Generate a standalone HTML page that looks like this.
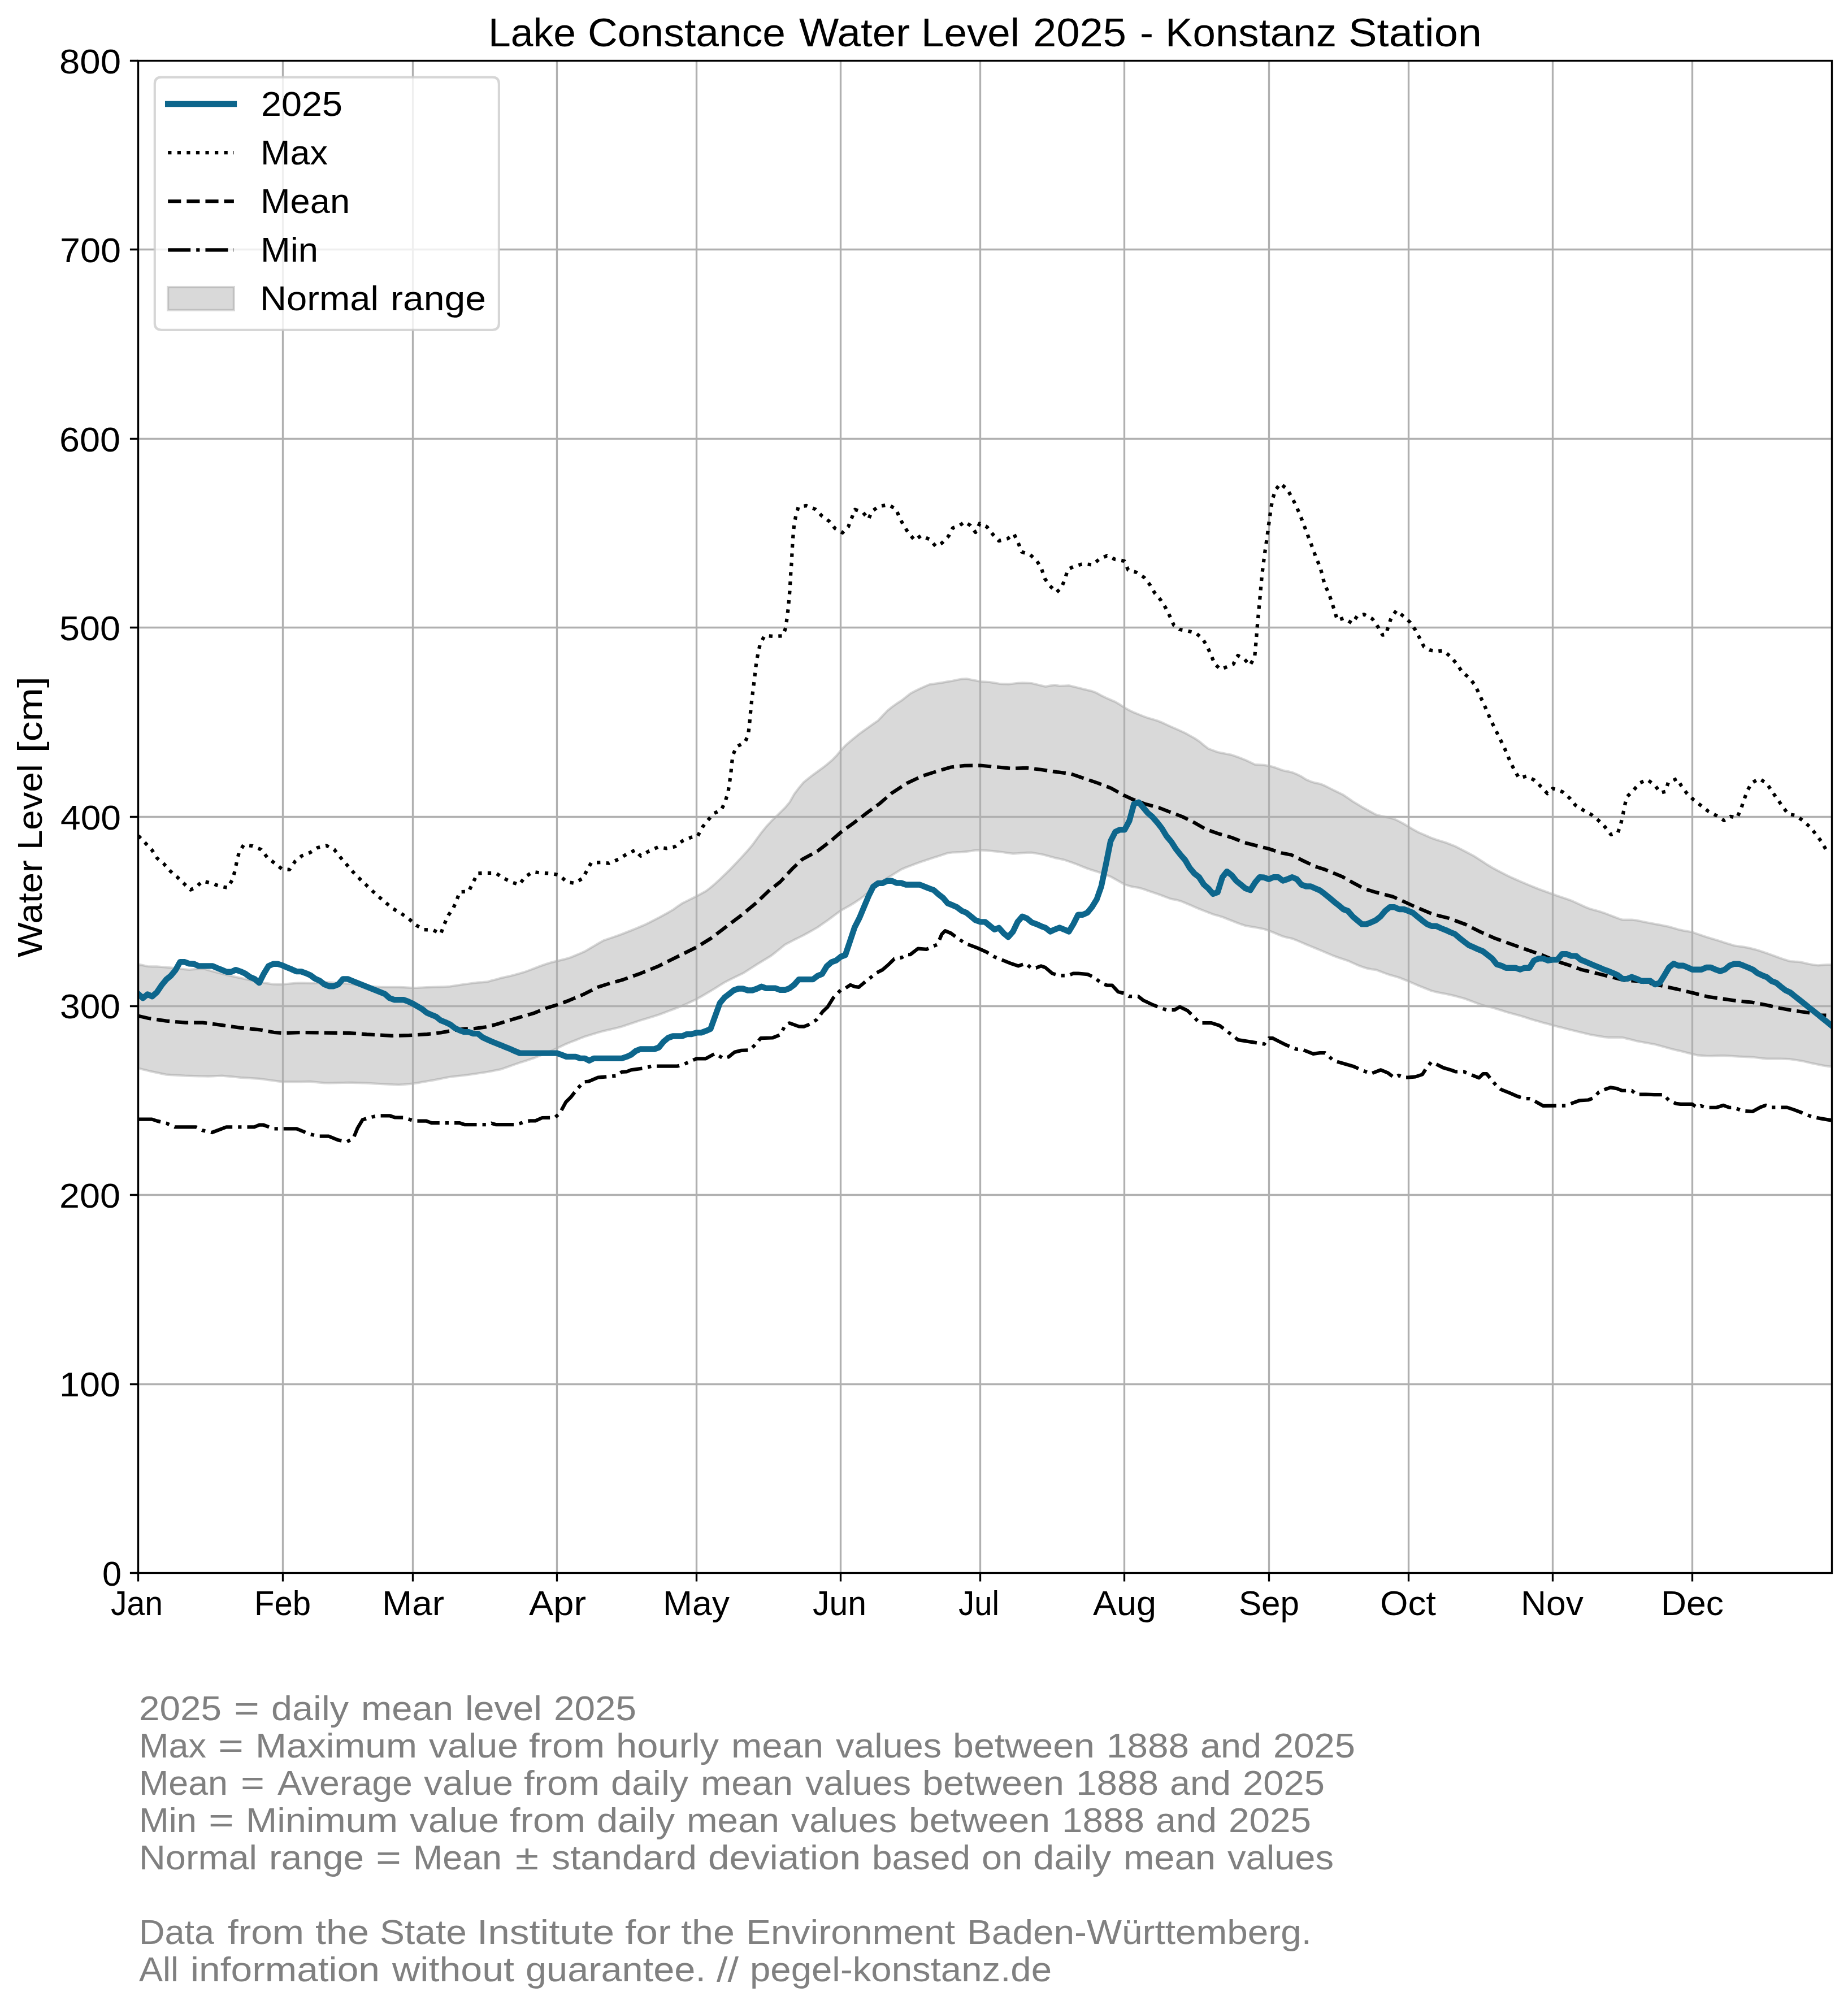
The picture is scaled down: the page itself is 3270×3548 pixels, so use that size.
<!DOCTYPE html>
<html lang="en"><head><meta charset="utf-8"><title>Lake Constance Water Level 2025 - Konstanz Station</title>
<style>html,body{margin:0;padding:0;background:#fff}svg{display:block}text{font-family:"Liberation Sans",sans-serif;fill:#000}.g{fill:#808080}</style></head><body>
<svg width="3270" height="3548" viewBox="0 0 3270 3548">
<rect width="3270" height="3548" fill="#fff"/>
<defs><clipPath id="ax"><rect x="244.4" y="106.8" width="2996.2" height="2676.4"/></clipPath></defs>
<g clip-path="url(#ax)"><path d="M244.6 1706.4 L252.8 1708.1 L261.1 1710 L269.3 1710.4 L277.5 1710.4 L285.8 1711 L294 1711.7 L302.2 1712.4 L310.5 1713.3 L318.7 1714.3 L326.9 1715.2 L335.2 1716 L343.4 1715.2 L351.6 1714.4 L359.9 1714 L368.1 1716.4 L376.3 1718.8 L384.6 1721 L392.8 1723.1 L401 1725.2 L409.3 1727 L417.5 1728.9 L425.7 1730.6 L434 1732.4 L442.2 1734.1 L450.4 1735.8 L458.7 1737.5 L466.9 1739.2 L475.1 1740.4 L483.4 1741.7 L491.6 1741.8 L499.8 1741.8 L508.1 1741 L516.3 1740.3 L524.5 1739.6 L532.8 1739.3 L541 1739.6 L549.2 1739.9 L557.5 1740 L565.7 1738.9 L573.9 1737.8 L582.2 1738.3 L590.4 1738.9 L598.6 1739.4 L606.9 1740 L615.1 1740.5 L623.3 1741.4 L631.6 1742.6 L639.8 1743.8 L648 1745 L656.3 1745.6 L664.5 1746 L672.7 1746.5 L681 1746.8 L689.2 1746.8 L697.4 1746.8 L705.7 1746.8 L713.9 1747.1 L722.1 1747.6 L730.4 1748 L738.6 1747.9 L746.8 1747.5 L755.1 1747.1 L763.3 1746.8 L771.5 1746.5 L779.8 1746.3 L788 1746 L796.2 1745.6 L804.5 1744.3 L812.7 1743.1 L820.9 1741.8 L829.2 1740.7 L837.4 1739.5 L845.6 1738.6 L853.9 1738.2 L862.1 1737.4 L870.3 1735.1 L878.6 1732.9 L886.8 1730.6 L895 1728.8 L903.3 1726.9 L911.5 1724.7 L919.7 1722.4 L928 1720.1 L936.2 1717.1 L944.4 1714 L952.7 1710.8 L960.9 1707.8 L969.1 1705.1 L977.4 1702.6 L985.6 1700.6 L993.9 1698.6 L1002.1 1696.6 L1010.3 1694 L1018.6 1690.5 L1026.8 1687.1 L1035 1683.5 L1043.3 1678.6 L1051.5 1673.8 L1059.7 1668.9 L1068 1664.3 L1076.2 1661.4 L1084.4 1658.6 L1092.7 1655.7 L1100.9 1652.8 L1109.1 1649.5 L1117.4 1646.2 L1125.6 1642.9 L1133.8 1639.5 L1142.1 1635.9 L1150.3 1631.8 L1158.5 1627.6 L1166.8 1623.3 L1175 1618.8 L1183.2 1614.3 L1191.5 1609.5 L1199.7 1603.4 L1207.9 1598.1 L1216.2 1594 L1224.4 1589.9 L1232.6 1585.8 L1240.9 1581.3 L1249.1 1576.8 L1257.3 1570.6 L1265.6 1563.5 L1273.8 1556 L1282 1548 L1290.3 1540 L1298.5 1531.5 L1306.7 1522.9 L1315 1513.9 L1323.2 1504.8 L1331.4 1495.2 L1339.7 1483.6 L1347.9 1472.6 L1356.1 1462.5 L1364.4 1453.6 L1372.6 1445.6 L1380.8 1437.5 L1389.1 1429.3 L1397.3 1419.5 L1405.5 1405 L1413.8 1394 L1422 1384.3 L1430.2 1377.7 L1438.5 1371.2 L1446.7 1365.2 L1454.9 1359.3 L1463.2 1352.8 L1471.4 1345.9 L1479.6 1337.8 L1487.9 1327.9 L1496.1 1319 L1504.3 1311.9 L1512.6 1305 L1520.8 1298.4 L1529 1292.5 L1537.3 1286.6 L1545.5 1280.8 L1553.7 1275.1 L1562 1266.3 L1570.2 1257.6 L1578.4 1250.9 L1586.7 1245.1 L1594.9 1239.8 L1603.1 1233.4 L1611.4 1226.9 L1619.6 1222.7 L1627.8 1218.6 L1636.1 1214.8 L1644.3 1211.3 L1652.5 1210.1 L1660.8 1208.9 L1669 1207.6 L1677.2 1206.1 L1685.5 1204.7 L1693.7 1203 L1701.9 1201.5 L1710.2 1201 L1718.4 1202.7 L1726.6 1204.3 L1734.9 1206 L1743.1 1206.5 L1751.3 1207 L1759.6 1208.4 L1767.8 1209.8 L1776 1210.3 L1784.3 1210.6 L1792.5 1209.7 L1800.7 1208.8 L1809 1208.4 L1817.2 1208.7 L1825.4 1209 L1833.7 1211 L1841.9 1213 L1850.1 1214.9 L1858.4 1213.4 L1866.6 1212.1 L1874.8 1213.9 L1883.1 1213.5 L1891.3 1213 L1899.5 1215 L1907.8 1217.1 L1916 1219.1 L1924.2 1221.1 L1932.5 1223.1 L1940.7 1226.3 L1948.9 1230.8 L1957.2 1234.9 L1965.4 1238.5 L1973.6 1242 L1981.9 1246.9 L1990.1 1252.2 L1998.3 1256.9 L2006.6 1260.8 L2014.8 1264.1 L2023 1267.4 L2031.3 1270.4 L2039.5 1272.8 L2047.7 1275.2 L2056 1278.5 L2064.2 1282.3 L2072.4 1286.1 L2080.7 1289.7 L2088.9 1293.3 L2097.1 1297.1 L2105.4 1301.7 L2113.6 1306.3 L2121.8 1311.7 L2130.1 1318.6 L2138.3 1324.9 L2146.5 1327.9 L2154.8 1331 L2163 1332.6 L2171.2 1334.2 L2179.5 1335.9 L2187.7 1338.8 L2195.9 1341.7 L2204.2 1345.1 L2212.4 1348.9 L2220.6 1352.8 L2228.9 1353.4 L2237.1 1353.9 L2245.3 1355.3 L2253.6 1357.2 L2261.8 1360.2 L2270 1363.2 L2278.3 1364.9 L2286.5 1366.8 L2294.7 1370.1 L2303 1374.2 L2311.2 1379.5 L2319.4 1382.9 L2327.7 1385.4 L2335.9 1387 L2344.1 1390.3 L2352.4 1394.5 L2360.6 1398.6 L2368.8 1402.6 L2377.1 1406.7 L2385.3 1412.3 L2393.5 1418 L2401.8 1423 L2410 1428.1 L2418.2 1432.6 L2426.5 1437.1 L2434.7 1441.5 L2442.9 1443.8 L2451.2 1445.6 L2459.4 1446.9 L2467.6 1449.4 L2475.9 1453.5 L2484.1 1457.9 L2492.3 1462.8 L2500.6 1467.7 L2508.8 1472.3 L2517.1 1475.9 L2525.3 1479.5 L2533.5 1483.1 L2541.8 1485.9 L2550 1488.4 L2558.2 1491 L2566.5 1494.2 L2574.7 1497.4 L2582.9 1501.6 L2591.2 1505.9 L2599.4 1510.2 L2607.6 1514.5 L2615.9 1519.8 L2624.1 1525.1 L2632.3 1530.4 L2640.6 1535.4 L2648.8 1539.8 L2657 1544.1 L2665.3 1548.4 L2673.5 1552.3 L2681.7 1556 L2690 1559.7 L2698.2 1563.2 L2706.4 1566.6 L2714.7 1570 L2722.9 1573.3 L2731.1 1576.3 L2739.4 1579.3 L2747.6 1582.3 L2755.8 1585.3 L2764.1 1588 L2772.3 1590.7 L2780.5 1593.7 L2788.8 1597.4 L2797 1601.2 L2805.2 1605 L2813.5 1608.2 L2821.7 1610.5 L2829.9 1612.8 L2838.2 1615.4 L2846.4 1618.6 L2854.6 1621.8 L2862.9 1624.9 L2871.1 1627.7 L2879.3 1627.7 L2887.6 1627.7 L2895.8 1628.5 L2904 1630.3 L2912.3 1632 L2920.5 1633.5 L2928.7 1635.1 L2937 1636.6 L2945.2 1638.2 L2953.4 1639.9 L2961.7 1642.3 L2969.9 1644.7 L2978.1 1646.6 L2986.4 1648 L2994.6 1649.5 L3002.8 1652.4 L3011.1 1655.2 L3019.3 1658 L3027.5 1660.5 L3035.8 1663 L3044 1665.6 L3052.2 1668.2 L3060.5 1670.8 L3068.7 1673.3 L3076.9 1674.5 L3085.2 1675.6 L3093.4 1677.1 L3101.6 1679.1 L3109.9 1681.3 L3118.1 1684 L3126.3 1686.8 L3134.6 1689.7 L3142.8 1692.7 L3151 1695.7 L3159.3 1698.4 L3167.5 1701 L3175.7 1701.6 L3184 1702 L3192.2 1703.9 L3200.4 1705.8 L3208.7 1707.2 L3216.9 1708.3 L3225.1 1707.6 L3233.4 1707 L3241.6 1707 L3241.6 1887.6 L3233.4 1886.8 L3225.1 1885.4 L3216.9 1883.8 L3208.7 1882.1 L3200.4 1880.2 L3192.2 1878.3 L3184 1876.8 L3175.7 1875.5 L3167.5 1874.2 L3159.3 1873.9 L3151 1873.6 L3142.8 1873.6 L3134.6 1873.6 L3126.3 1873.6 L3118.1 1872.8 L3109.9 1871.8 L3101.6 1870.8 L3093.4 1870.3 L3085.2 1870 L3076.9 1869.7 L3068.7 1869.2 L3060.5 1868.7 L3052.2 1868.1 L3044 1868.1 L3035.8 1868.4 L3027.5 1868.8 L3019.3 1868.5 L3011.1 1867.9 L3002.8 1867.3 L2994.6 1865.3 L2986.4 1863.2 L2978.1 1861.1 L2969.9 1859.1 L2961.7 1857.2 L2953.4 1855.1 L2945.2 1852.8 L2937 1850.5 L2928.7 1848.3 L2920.5 1846.8 L2912.3 1845.3 L2904 1843.8 L2895.8 1842.2 L2887.6 1840.1 L2879.3 1838.1 L2871.1 1836 L2862.9 1835.8 L2854.6 1835.8 L2846.4 1835.8 L2838.2 1835.1 L2829.9 1833.6 L2821.7 1832.2 L2813.5 1830.7 L2805.2 1828.8 L2797 1826.8 L2788.8 1824.8 L2780.5 1822.8 L2772.3 1820.7 L2764.1 1818.6 L2755.8 1816.6 L2747.6 1814.4 L2739.4 1812.1 L2731.1 1809.9 L2722.9 1807.6 L2714.7 1805.3 L2706.4 1802.7 L2698.2 1800 L2690 1797.5 L2681.7 1795.2 L2673.5 1793 L2665.3 1790.7 L2657 1788.1 L2648.8 1785.5 L2640.6 1783.1 L2632.3 1781 L2624.1 1778.9 L2615.9 1776.3 L2607.6 1773.1 L2599.4 1770 L2591.2 1767 L2582.9 1764.7 L2574.7 1762.4 L2566.5 1760.6 L2558.2 1758.8 L2550 1757.2 L2541.8 1755.6 L2533.5 1753.5 L2525.3 1750.2 L2517.1 1747 L2508.8 1743.7 L2500.6 1740.1 L2492.3 1736.5 L2484.1 1733.2 L2475.9 1730 L2467.6 1727.6 L2459.4 1725.2 L2451.2 1722.4 L2442.9 1719.3 L2434.7 1716.1 L2426.5 1715.2 L2418.2 1713.4 L2410 1710.7 L2401.8 1707.7 L2393.5 1703.9 L2385.3 1700.2 L2377.1 1697.5 L2368.8 1694.7 L2360.6 1691.8 L2352.4 1688.3 L2344.1 1684.8 L2335.9 1681.3 L2327.7 1678 L2319.4 1674.6 L2311.2 1671.2 L2303 1667.7 L2294.7 1664.2 L2286.5 1660.9 L2278.3 1659.3 L2270 1657 L2261.8 1653.7 L2253.6 1650.3 L2245.3 1647 L2237.1 1644.2 L2228.9 1642.5 L2220.6 1641 L2212.4 1639.6 L2204.2 1638.3 L2195.9 1635.6 L2187.7 1632.5 L2179.5 1629.3 L2171.2 1626 L2163 1622.8 L2154.8 1620.3 L2146.5 1617.9 L2138.3 1614.8 L2130.1 1611.6 L2121.8 1608.3 L2113.6 1604.8 L2105.4 1601.2 L2097.1 1597.8 L2088.9 1594.4 L2080.7 1592.3 L2072.4 1590.9 L2064.2 1587.9 L2056 1584.7 L2047.7 1581.8 L2039.5 1579 L2031.3 1576.2 L2023 1573.3 L2014.8 1570.9 L2006.6 1569.8 L1998.3 1567.9 L1990.1 1565.1 L1981.9 1560.6 L1973.6 1555.9 L1965.4 1551.4 L1957.2 1548.3 L1948.9 1545.1 L1940.7 1542.3 L1932.5 1539.7 L1924.2 1537 L1916 1533.7 L1907.8 1530.4 L1899.5 1527.3 L1891.3 1524.4 L1883.1 1521.6 L1874.8 1519.8 L1866.6 1518.1 L1858.4 1515.8 L1850.1 1513.4 L1841.9 1511.5 L1833.7 1510.2 L1825.4 1508.8 L1817.2 1508.8 L1809 1509.4 L1800.7 1510.1 L1792.5 1510.6 L1784.3 1509.5 L1776 1508.3 L1767.8 1507.2 L1759.6 1506.4 L1751.3 1505.6 L1743.1 1504.9 L1734.9 1504.6 L1726.6 1504.4 L1718.4 1506 L1710.2 1506.9 L1701.9 1507.9 L1693.7 1508.2 L1685.5 1508.5 L1677.2 1509.5 L1669 1512.2 L1660.8 1514.9 L1652.5 1517.5 L1644.3 1520.2 L1636.1 1523 L1627.8 1525.8 L1619.6 1528.7 L1611.4 1531.9 L1603.1 1535 L1594.9 1538.5 L1586.7 1543.6 L1578.4 1548.7 L1570.2 1553.8 L1562 1559.1 L1553.7 1564.3 L1545.5 1570.3 L1537.3 1578 L1529 1585.6 L1520.8 1591.6 L1512.6 1597.1 L1504.3 1602.1 L1496.1 1606.7 L1487.9 1611.3 L1479.6 1617.4 L1471.4 1623.5 L1463.2 1629.6 L1454.9 1635.3 L1446.7 1641 L1438.5 1645.7 L1430.2 1650.4 L1422 1654.9 L1413.8 1659 L1405.5 1663 L1397.3 1667.3 L1389.1 1671.6 L1380.8 1678.3 L1372.6 1685 L1364.4 1691.4 L1356.1 1696.4 L1347.9 1701.4 L1339.7 1706.4 L1331.4 1711.7 L1323.2 1717 L1315 1722.2 L1306.7 1726.2 L1298.5 1730.2 L1290.3 1734.2 L1282 1738.5 L1273.8 1743.6 L1265.6 1748.8 L1257.3 1753.8 L1249.1 1758.6 L1240.9 1763.4 L1232.6 1768.1 L1224.4 1772 L1216.2 1775.8 L1207.9 1779.4 L1199.7 1782.7 L1191.5 1786 L1183.2 1789.1 L1175 1792.2 L1166.8 1795.2 L1158.5 1798 L1150.3 1800.5 L1142.1 1803 L1133.8 1805.4 L1125.6 1808.2 L1117.4 1810.9 L1109.1 1813.7 L1100.9 1816.5 L1092.7 1818.8 L1084.4 1820.7 L1076.2 1822.6 L1068 1824.5 L1059.7 1826.8 L1051.5 1829.2 L1043.3 1831.7 L1035 1834.2 L1026.8 1837.4 L1018.6 1840.7 L1010.3 1843.9 L1002.1 1847.2 L993.9 1851.1 L985.6 1855 L977.4 1858.9 L969.1 1862.3 L960.9 1865.7 L952.7 1869.2 L944.4 1872.6 L936.2 1875.3 L928 1877.9 L919.7 1880.6 L911.5 1883.4 L903.3 1886.3 L895 1889.3 L886.8 1892.1 L878.6 1893.8 L870.3 1895.4 L862.1 1897 L853.9 1898.3 L845.6 1899.5 L837.4 1900.7 L829.2 1901.9 L820.9 1903 L812.7 1903.9 L804.5 1904.7 L796.2 1905.7 L788 1907.3 L779.8 1909 L771.5 1910.6 L763.3 1912.1 L755.1 1913.5 L746.8 1914.9 L738.6 1916.4 L730.4 1917.6 L722.1 1918.3 L713.9 1919.1 L705.7 1919.7 L697.4 1919.3 L689.2 1918.9 L681 1918.4 L672.7 1918 L664.5 1917.6 L656.3 1917.1 L648 1916.7 L639.8 1916.4 L631.6 1916.2 L623.3 1915.9 L615.1 1915.8 L606.9 1916 L598.6 1916.2 L590.4 1916.4 L582.2 1916.6 L573.9 1916.4 L565.7 1915.6 L557.5 1914.8 L549.2 1913.9 L541 1914 L532.8 1914.3 L524.5 1914.4 L516.3 1914.4 L508.1 1914.4 L499.8 1914.4 L491.6 1913.4 L483.4 1912.3 L475.1 1911.1 L466.9 1910 L458.7 1908.9 L450.4 1908.4 L442.2 1907.9 L434 1907.3 L425.7 1906.8 L417.5 1906 L409.3 1905.2 L401 1904.5 L392.8 1903.7 L384.6 1904 L376.3 1904.4 L368.1 1904.7 L359.9 1904.5 L351.6 1904.3 L343.4 1904.1 L335.2 1903.9 L326.9 1903.6 L318.7 1903.1 L310.5 1902.6 L302.2 1902.2 L294 1901.6 L285.8 1899.9 L277.5 1898.1 L269.3 1896.4 L261.1 1894.5 L252.8 1892.4 L244.6 1890.3Z" fill="#808080" fill-opacity=".3" stroke="#808080" stroke-opacity=".3" stroke-width="4.17" stroke-linejoin="round"/></g>
<path d="M244.5 107.5V2783.5M500.5 107.5V2783.5M730.5 107.5V2783.5M985.5 107.5V2783.5M1232.5 107.5V2783.5M1487.5 107.5V2783.5M1734.5 107.5V2783.5M1989.5 107.5V2783.5M2245.5 107.5V2783.5M2492.5 107.5V2783.5M2747.5 107.5V2783.5M2994.5 107.5V2783.5M244.5 2449.5H3241.5M244.5 2114.5H3241.5M244.5 1780.5H3241.5M244.5 1445.5H3241.5M244.5 1110.5H3241.5M244.5 776.5H3241.5M244.5 441.5H3241.5" stroke="#b0b0b0" stroke-width="3.33" fill="none"/>
<g clip-path="url(#ax)" fill="none" stroke="#000" stroke-width="6.25" stroke-linejoin="round">
<path d="M244.7 1478.9 L257 1491.6 L268.9 1504.3 L277.9 1518.4 L289.9 1528.7 L301.8 1541.8 L313.8 1552.2 L325.2 1563.2 L337.1 1574.6 L346.7 1570.2 L358.1 1559.2 L372.1 1562.2 L388.6 1568.2 L403 1570.9 L411.1 1556.8 L415.5 1541.8 L419.2 1523.7 L423 1508.3 L431.1 1495.3 L447 1497 L462 1503.3 L473 1517.4 L485.8 1527.4 L499.3 1538.1 L512.2 1538.8 L521.8 1524.7 L533.8 1514.7 L548.7 1508.7 L562.2 1500 L577.2 1496.3 L591.2 1503 L601.1 1515.7 L612.1 1528.4 L623.5 1541.8 L634.6 1553.2 L646 1564.2 L658.6 1576.2 L669.9 1586.6 L682.8 1597.6 L696 1608.3 L710.3 1616.7 L723.8 1626.1 L735.7 1636.8 L749.9 1645.1 L766.4 1645.8 L779.9 1652.5 L785.9 1636.1 L793.3 1619.7 L802.3 1606.7 L808.3 1592.6 L813.4 1578.2 L829.3 1577.6 L837.3 1561.2 L845.1 1545.5 L860.6 1544.8 L877.1 1544.8 L890.6 1553.8 L905.5 1561.2 L919 1565.5 L928.6 1552.2 L943 1542.8 L958 1544.8 L974.3 1545.5 L989.3 1548.5 L1002.8 1560.5 L1016.2 1562.9 L1031.2 1554.2 L1038.7 1540.1 L1046.2 1526.7 L1062.7 1526.1 L1077.6 1527.7 L1094.1 1520.7 L1108.5 1511.7 L1124 1504.3 L1133.6 1514.7 L1148.6 1506 L1164.4 1499 L1179.4 1501.3 L1194.3 1498.3 L1207.8 1487.9 L1222.7 1481.9 L1234.5 1479.6 L1242.9 1463.8 L1253.4 1450.5 L1263.8 1439.1 L1276.4 1433.1 L1283.3 1418.4 L1288.4 1401.6 L1290.8 1385.6 L1293.2 1369.2 L1294.7 1352.8 L1296.8 1336.1 L1303.3 1321.4 L1317.8 1313.7 L1323.7 1302 L1325.8 1285.2 L1327.3 1268.8 L1328.8 1252.5 L1330.6 1236.1 L1332.7 1219.7 L1334.8 1202.9 L1336.6 1186.6 L1338.7 1170.2 L1341.7 1154.4 L1345.3 1138.7 L1353.1 1124.7 L1368.6 1126 L1385.1 1125.3 L1390.5 1110.3 L1392.5 1093.9 L1394.7 1077.5 L1396.1 1060.8 L1397.6 1044.4 L1398.5 1028 L1399.4 1011.6 L1400.7 995.2 L1401.5 978.5 L1402.4 962.1 L1403.6 945.7 L1405.1 929.3 L1408.1 913.3 L1412.6 897.2 L1426.9 894.9 L1442.8 901.2 L1453.9 912.6 L1467.4 922.6 L1477.8 935.4 L1490.7 942.7 L1500.9 932.3 L1507.2 916.3 L1512.9 901.6 L1527.2 906.9 L1536.8 918.6 L1543.1 904.6 L1554.7 896.2 L1571.2 893.2 L1585 900.2 L1591.6 915.6 L1599 930 L1608 943.7 L1618.5 956.1 L1629.9 947.7 L1645.5 954.8 L1655.9 966.8 L1666.9 960.8 L1678.4 948.7 L1685.8 934.4 L1697.8 930 L1707.4 923.3 L1717.2 930 L1726.2 942 L1733.5 926.3 L1746.4 932.3 L1756.9 945.7 L1767.4 957.1 L1783.2 953.1 L1794.3 945.1 L1801.8 960.8 L1807.7 976.5 L1822.7 981.5 L1834.7 992.2 L1843.1 1006.9 L1848.7 1023.7 L1857.1 1036 L1869.7 1048.1 L1878.1 1040.1 L1884.7 1024 L1889.5 1007.6 L1902 1001.6 L1917.6 997.6 L1932.9 999.6 L1944.8 989.9 L1958.9 983.2 L1973.2 989.9 L1989.4 992.9 L1996.3 1008.6 L2011.3 1013 L2024.8 1022 L2034.6 1034.7 L2043.3 1049.4 L2053.8 1061.8 L2062.7 1075.8 L2070.2 1090.9 L2077.1 1106.3 L2087.6 1114 L2101.1 1116.3 L2116 1120.3 L2127.4 1129.7 L2136.1 1143.7 L2142.9 1159.1 L2149.5 1175.2 L2160 1184.5 L2172.9 1179.2 L2182.4 1175.2 L2190.3 1160.1 L2201.3 1165.8 L2211.8 1177.2 L2220.1 1162.8 L2221.6 1146.1 L2223.1 1129.7 L2224.3 1113.3 L2225.8 1096.9 L2227.3 1080.5 L2228.9 1063.8 L2230.4 1047.4 L2231.8 1031 L2233.4 1014.6 L2235.5 997.9 L2237.6 981.5 L2240 965.1 L2242.4 948.7 L2244.4 932.3 L2246.8 915.6 L2249 899.2 L2251.9 882.8 L2257 867.1 L2265.4 855.7 L2277.4 865.4 L2285.8 879.8 L2293.3 894.9 L2299.9 909.9 L2305.8 925.3 L2311.8 941 L2317.8 957.1 L2323.7 972.5 L2329.2 988.2 L2335.7 1002.6 L2340.2 1019 L2344.1 1035 L2351.3 1049.8 L2356.7 1066.1 L2361.8 1081.9 L2366.5 1097.6 L2377.7 1093.9 L2392.6 1102.9 L2401.5 1090.2 L2413.6 1087.2 L2428.5 1095.2 L2438.1 1109 L2446.5 1123.7 L2452.4 1123 L2456.9 1107.3 L2462.3 1091.6 L2471 1080.5 L2483.9 1090.9 L2495.2 1101.3 L2504.8 1115.3 L2512.3 1129.7 L2519.8 1144.7 L2529.3 1150.1 L2542.2 1152.8 L2554.2 1151.4 L2567.7 1162.8 L2578.1 1175.5 L2587.7 1189.6 L2600 1199.6 L2609.6 1212 L2617 1227 L2623.9 1242.4 L2631.1 1257.8 L2637.4 1273.5 L2644.8 1288.2 L2652.1 1303.3 L2659.6 1318.3 L2666.4 1333.4 L2672.4 1348.1 L2679.9 1363.2 L2688.2 1377.2 L2700.8 1373.5 L2715.2 1380.6 L2727.7 1392.9 L2738.2 1404.3 L2747.6 1395.3 L2764.9 1401.3 L2777.4 1412.3 L2787.8 1425 L2801.6 1433.7 L2816.1 1441.8 L2829.3 1452.5 L2840.2 1463.5 L2850.6 1476.9 L2862.9 1473.2 L2867.9 1458.5 L2871.7 1442.1 L2874.8 1426 L2878.6 1410.3 L2890.5 1398.3 L2902.1 1385.2 L2915.1 1379.6 L2928.8 1390.3 L2938.3 1403 L2947.1 1400.6 L2951.8 1384.9 L2967.5 1377.9 L2975.3 1390.9 L2985.4 1404.6 L2997.3 1415.7 L3010.5 1426 L3023.4 1436.1 L3038.1 1443.8 L3050.7 1451.8 L3061.7 1444.8 L3073.6 1447.1 L3080.6 1431.4 L3085.9 1415.7 L3091.6 1400 L3099.4 1385.6 L3112.9 1377.9 L3126.2 1386.2 L3135.6 1400.6 L3145 1414 L3154.4 1427.4 L3164.5 1440.8 L3177.4 1442.8 L3190.6 1452.5 L3202.5 1463.2 L3213.2 1476.2 L3222.9 1489.3 L3232 1505" stroke-dasharray="6.25 10.31"/>
<path d="M244.7 1797.7 L262.9 1802 L294.3 1806.7 L328.7 1809.7 L358.7 1809.7 L393.1 1814.1 L424.5 1818.7 L460.4 1822.4 L484.4 1826.8 L499.3 1828.1 L529.2 1827.1 L559.2 1827.4 L619.1 1828.1 L648.9 1830.4 L693.9 1832.8 L723.8 1832.1 L755.9 1830.1 L779.9 1827.4 L803.8 1823.1 L821.8 1820.7 L839.7 1820.1 L857.7 1817.7 L875.6 1813.4 L899.6 1806 L923.5 1799 L944.4 1793 L965.4 1784.3 L985.5 1778.3 L1007.3 1770.2 L1031.2 1760.2 L1058.2 1746.8 L1079.1 1740.1 L1103 1733.4 L1133 1722.7 L1162.9 1710.7 L1183.9 1700.3 L1210.8 1686.9 L1232.5 1676.2 L1257.9 1660.5 L1284.8 1640.1 L1311.7 1619.7 L1338.7 1597.3 L1359.7 1576.9 L1380.6 1560.5 L1401.5 1537.8 L1419.5 1520.7 L1446.4 1506.3 L1470.3 1487.9 L1487.7 1472.9 L1509.3 1457.2 L1533.2 1439.1 L1557.2 1421.4 L1578.1 1403.3 L1605 1385.9 L1631.9 1373.2 L1658.9 1364.5 L1682.8 1357.5 L1706.8 1354.8 L1734.8 1354.5 L1759.9 1357.1 L1789.8 1359.8 L1816.8 1358.8 L1843.7 1362.2 L1870.6 1366.2 L1894.6 1369.2 L1918.5 1377.5 L1942.4 1385.6 L1966.4 1394.9 L1989.4 1407.7 L2002.3 1413.7 L2026.3 1422.7 L2050.2 1429.1 L2074.1 1438.4 L2092 1445.1 L2113 1455.5 L2133.9 1467.5 L2154.9 1474.9 L2178.9 1481.9 L2202.8 1491.3 L2223.8 1496.6 L2245.3 1502 L2266.9 1509.3 L2284.9 1512.7 L2305.8 1523.1 L2326.8 1533.1 L2344.7 1538.8 L2374.6 1551.1 L2392.6 1561.2 L2413.6 1572.6 L2434.5 1578.9 L2464.4 1586.6 L2485.4 1596 L2503.3 1604.3 L2536.2 1618 L2563.2 1624.7 L2593.1 1635.8 L2617 1647.8 L2644 1659.9 L2670.9 1669.6 L2697.9 1679.3 L2727.7 1689.6 L2753.8 1700.7 L2775.8 1707.7 L2797.8 1715.7 L2822.9 1721.7 L2848.1 1728.1 L2873.2 1734.4 L2898.3 1736.1 L2923.5 1740.8 L2948.7 1746.2 L2973.8 1751.8 L2998.9 1757.9 L3024.1 1764.2 L3049.2 1767.6 L3074.3 1771.2 L3099.4 1773.6 L3124.6 1778.3 L3149.7 1784 L3174.8 1788.6 L3199.9 1792 L3218.8 1796.3 L3231.4 1796.7" stroke-dasharray="23.13 10"/>
<path d="M244.7 1980.6 L268.9 1980.6 L277.9 1983.6 L294.3 1987.7 L309.3 1994.3 L346.7 1994.3 L358.7 2000.4 L375.2 2004 L400.5 1994.3 L449.9 1994.3 L458.9 1990.7 L466.4 1990.7 L484.4 1997.4 L524.8 1997.4 L548.7 2007.1 L565.2 2010.7 L581.6 2010.7 L598.1 2017.4 L614 2020.4 L625.1 2014.7 L632.5 1996.7 L641.5 1981.6 L655 1977.3 L668.5 1974.3 L689.4 1974.3 L698.3 1977.3 L714.8 1977.6 L732.8 1983.6 L754.4 1983.6 L763.4 1987 L812.8 1987 L821.8 1990 L863.7 1990 L869.6 1987.7 L877.1 1990 L914.6 1990 L929.5 1984.6 L938.4 1983.3 L947.4 1983.3 L959.4 1978 L981.8 1977.6 L990.8 1969.6 L1001.3 1950.2 L1010.3 1941.2 L1020.8 1927.8 L1032.7 1914.4 L1041.7 1913.7 L1058.2 1906.7 L1091.1 1903.7 L1100.1 1897 L1109 1896.3 L1116.5 1893.3 L1139 1890.3 L1153.9 1886.6 L1198.9 1886.6 L1210.8 1883 L1232.5 1873.3 L1248.9 1873.3 L1265.4 1864.2 L1280.3 1873.3 L1289.3 1870.2 L1299.8 1861.9 L1311.7 1858.9 L1326.7 1858.2 L1335.7 1849.2 L1346.2 1837.1 L1367.1 1836.5 L1380.6 1831.1 L1389.6 1814.1 L1397 1810.4 L1413.5 1816.4 L1422.5 1816.7 L1432.9 1812.4 L1445 1804.4 L1455.4 1790.6 L1464.4 1781.9 L1474.9 1765.2 L1487.7 1751.8 L1495.8 1748.8 L1504.7 1742.8 L1512.2 1745.8 L1519.7 1746.8 L1531.7 1736.8 L1551.2 1721.4 L1561.6 1716.1 L1572.1 1707 L1582.5 1696.7 L1596 1694.3 L1603.5 1689 L1611 1689 L1624.5 1678.6 L1639.4 1679.9 L1658.9 1671.2 L1666.4 1653.2 L1672.4 1647.1 L1682.8 1651.5 L1694.9 1660.5 L1708.3 1669.6 L1724.7 1675.6 L1729.9 1677.6 L1744.9 1684.3 L1759.9 1693.3 L1774.9 1699.3 L1789.8 1705.3 L1801.8 1709.4 L1815.2 1704.7 L1824.2 1712.7 L1833.2 1712.7 L1842.1 1709.4 L1849.6 1712 L1861.7 1722.4 L1873.6 1726.4 L1890.1 1726.4 L1899 1722.7 L1908 1722.7 L1924.5 1724.1 L1936.4 1729.8 L1949.9 1740.5 L1958.9 1743.5 L1967.9 1743.5 L1978.3 1754.9 L1989.4 1757.9 L1997.8 1763.2 L2014.2 1763.2 L2023.2 1770.2 L2038.2 1777.3 L2053.2 1783.3 L2063.6 1787 L2078.6 1787 L2087.6 1781.6 L2101.1 1788.3 L2111.5 1798 L2122 1810 L2142.9 1810 L2157.9 1814.7 L2172.9 1826.1 L2190.8 1840.1 L2236.9 1847.5 L2245.3 1837.1 L2251.9 1837.1 L2263.9 1843.2 L2275.9 1849.2 L2293.8 1856.5 L2302.8 1856.5 L2323.7 1864.9 L2335.7 1863.2 L2344.7 1863.2 L2359.7 1876.9 L2368.7 1879.6 L2395.6 1887.3 L2410.5 1894 L2425.5 1900 L2430 1898.3 L2443.4 1893.3 L2455.5 1898.3 L2466.8 1906.7 L2474.9 1903 L2483.9 1906.7 L2491.4 1906.7 L2504.8 1905.4 L2516.8 1901.4 L2524.3 1889.6 L2532.4 1879.6 L2539.2 1882 L2554.2 1889.6 L2569.2 1894 L2575.2 1896.3 L2590.1 1896.3 L2605.1 1902.7 L2617 1907.4 L2624.5 1900 L2630.5 1900 L2639.5 1911.1 L2648.5 1921.8 L2655.9 1927.8 L2670.9 1933.8 L2682.9 1939.2 L2697.9 1944.2 L2706.8 1944.2 L2718.8 1950.2 L2730.8 1956.9 L2771.1 1956.5 L2782.1 1952.2 L2794.7 1947.5 L2810.4 1946.5 L2819.8 1942.8 L2829.3 1932.5 L2840.2 1927.8 L2849.7 1924.4 L2860.6 1926.1 L2870.1 1929.8 L2887.4 1929.8 L2895.2 1936.5 L2912.5 1936.5 L2926.7 1937.1 L2944 1937.1 L2953.3 1947.5 L2965.9 1952.9 L2973.8 1953.9 L2994.2 1953.9 L3003 1959.9 L3009.9 1956.9 L3019.3 1959.9 L3036.6 1959.9 L3049.2 1955.9 L3060.1 1959.9 L3068 1959.9 L3083.8 1965.9 L3101 1966.9 L3115.1 1959.2 L3124.6 1955.9 L3134 1959.6 L3162.2 1959.6 L3174.8 1963.9 L3190.6 1969.9 L3206.3 1976.3 L3223.6 1979.6 L3241.4 1982.6" stroke-dasharray="40 10 6.25 10"/>
<path d="M244.7 1758.9 L252.8 1766.2 L261.1 1759.5 L269.2 1763.2 L277.6 1755.9 L285.7 1743.8 L294.1 1733.4 L302.2 1726.8 L310.5 1716.7 L318.6 1702.3 L326.9 1702.3 L335 1705.3 L343.4 1705.7 L351.5 1709.4 L359.9 1709.4 L367.9 1709.4 L376.3 1709.4 L384.4 1713 L392.8 1716.4 L400.9 1719.7 L409.3 1719.7 L417.3 1716.1 L425.7 1719.1 L433.8 1722.7 L442.2 1728.8 L450.5 1732.4 L458.7 1739.1 L467 1722.7 L475.1 1709.4 L483.5 1705.7 L491.5 1705.7 L499.9 1708.4 L508 1712 L516.4 1715.4 L524.5 1719.1 L532.9 1719.1 L540.9 1722.1 L549.3 1725.8 L557.4 1731.8 L565.8 1735.5 L573.9 1741.8 L582.3 1745.2 L590.3 1745.2 L598.7 1741.8 L606.8 1732.4 L615.2 1732.4 L623.3 1735.8 L631.6 1739.1 L681 1758.9 L689.4 1766.2 L697.4 1769.2 L713.9 1769.2 L722.3 1772.2 L730.4 1775.9 L746.9 1785.6 L755.3 1792.3 L763.4 1795.7 L771.5 1799 L779.9 1805.7 L788.3 1809 L796.3 1812.7 L804.7 1819.1 L812.8 1823.1 L821.1 1826.1 L829.3 1826.1 L837.6 1829.1 L845.7 1829.1 L854 1835.8 L862.1 1839.5 L870.5 1843.2 L878.6 1846.5 L887 1849.8 L895 1853.2 L903.4 1856.5 L911.5 1860.2 L919.9 1863.6 L985.5 1863.6 L993.9 1866.6 L1002.2 1869.9 L1018.6 1869.9 L1026.8 1872.9 L1034.9 1872.9 L1042.6 1876.9 L1050.7 1872.9 L1100.1 1872.9 L1109 1869.9 L1116.5 1866.6 L1124.9 1859.9 L1133 1856.5 L1157.9 1856.5 L1165.9 1853.5 L1174.2 1843.2 L1182.4 1836.5 L1190.7 1833.5 L1207.2 1833.5 L1215.2 1830.1 L1223.6 1830.1 L1232.5 1827.4 L1240.9 1827.4 L1248.9 1824.4 L1257.3 1820.7 L1265.4 1798.3 L1273.7 1775.3 L1281.9 1765.2 L1290.2 1758.9 L1298.2 1752.5 L1306.6 1749.5 L1314.7 1749.5 L1323.1 1752.5 L1331.2 1752.5 L1339.6 1749.5 L1347.6 1745.8 L1356 1748.8 L1364.1 1748.8 L1372.5 1748.8 L1380.6 1751.8 L1389 1751.8 L1397 1748.8 L1405.4 1742.5 L1413.5 1733.1 L1421.9 1733.1 L1430 1733.1 L1438.4 1733.1 L1446.4 1727.1 L1454.8 1723.4 L1462.9 1710 L1471.2 1702.7 L1479.4 1699.7 L1487.7 1693 L1495.8 1690 L1504.2 1665.2 L1512.2 1641.1 L1520.6 1624.7 L1528.7 1605.3 L1537.1 1585.3 L1545.2 1568.9 L1553.6 1562.9 L1561.6 1562.9 L1570 1558.8 L1578.1 1558.8 L1586.5 1562.5 L1594.6 1562.5 L1603 1565.5 L1611 1565.5 L1619.4 1565.5 L1627.5 1565.5 L1635.8 1568.9 L1644 1572.2 L1652.3 1575.2 L1660.4 1582.3 L1668.8 1588.9 L1676.8 1598.3 L1685.2 1601.7 L1693.3 1605.3 L1701.7 1611.7 L1709.8 1615 L1718.2 1621.7 L1726.2 1628.4 L1734.8 1631.4 L1743.1 1631.4 L1751.3 1638.1 L1759.6 1644.8 L1767.6 1641.8 L1776 1651.5 L1784.1 1658.2 L1792.5 1648.5 L1800.6 1631.4 L1809 1621.7 L1817 1625.1 L1825.4 1632.1 L1833.5 1635.1 L1841.9 1638.8 L1850 1641.8 L1858.4 1648.5 L1866.4 1644.8 L1874.8 1641.5 L1882.9 1644.8 L1891.3 1648.5 L1899.4 1635.1 L1907.7 1618.7 L1915.8 1618.7 L1924.2 1615 L1932.3 1605 L1940.6 1591.6 L1948.7 1568.5 L1957.1 1528.7 L1965.2 1488.3 L1973.6 1471.9 L1981.6 1468.2 L1990 1468.2 L1998.4 1452.5 L2006.5 1422.7 L2014.9 1419.7 L2023 1429.1 L2031.4 1439.1 L2039.4 1445.8 L2047.8 1455.5 L2055.9 1465.9 L2064.2 1479.6 L2072.4 1489.3 L2080.7 1502.3 L2088.7 1512.3 L2097.1 1522 L2105.2 1535.8 L2113.6 1545.8 L2121.7 1552.2 L2130.1 1565.2 L2138.1 1572.2 L2146.5 1581.9 L2154.6 1578.9 L2163 1552.2 L2171.1 1542.1 L2179.5 1548.8 L2187.5 1558.8 L2195.9 1565.5 L2204 1572.2 L2212.4 1575.2 L2220.7 1561.9 L2228.9 1552.2 L2236.9 1552.8 L2245.3 1555.8 L2253.4 1552.2 L2261.8 1552.2 L2269.9 1558.5 L2278.3 1555.8 L2286.3 1552.2 L2294.7 1555.8 L2302.8 1565.5 L2311.2 1568.5 L2319.3 1568.5 L2327.7 1572.2 L2335.7 1575.6 L2344.1 1581.9 L2352.2 1588.6 L2360.5 1595.6 L2368.7 1602 L2377 1609 L2385.1 1612 L2393.5 1621.7 L2401.5 1628.4 L2409.9 1635.4 L2418 1635.4 L2426.4 1632.1 L2434.5 1628.4 L2442.9 1621.7 L2450.9 1612 L2459.3 1605.3 L2467.4 1605.3 L2475.8 1609 L2483.9 1609 L2492.3 1612 L2500.3 1615.4 L2508.7 1622.4 L2516.8 1629.1 L2525.2 1635.4 L2533.3 1638.8 L2541.6 1638.8 L2549.7 1642.5 L2558.1 1645.8 L2566.1 1649.5 L2574.5 1652.8 L2582.6 1659.9 L2591 1666.5 L2599.1 1672.6 L2607.5 1676.2 L2615.5 1679.9 L2623.9 1683.3 L2632 1689.6 L2640.4 1696.3 L2648.5 1706.4 L2656.9 1709 L2664.9 1712.7 L2673.3 1712.7 L2681.4 1712.7 L2689.8 1715.7 L2697.9 1712.7 L2706.3 1712.7 L2714.3 1699.7 L2722.6 1696.3 L2730.8 1696.3 L2739.1 1699.7 L2747.6 1698.3 L2755.7 1698.3 L2763.9 1688.3 L2772.4 1688.3 L2780.5 1691.6 L2788.8 1691.6 L2796.9 1698.3 L2805.4 1701.7 L2813.5 1705.3 L2821.7 1708.7 L2829.8 1712 L2838.1 1715.7 L2846.6 1718.7 L2854.7 1722.1 L2862.9 1725.8 L2871 1732.1 L2879.2 1732.1 L2887.4 1728.8 L2895.9 1732.1 L2904 1735.8 L2912.2 1735.8 L2920.3 1735.8 L2928.6 1742.1 L2937 1739.1 L2945.2 1725.8 L2953.3 1712 L2961.5 1705.3 L2969.6 1708.7 L2978.1 1708.7 L2986.4 1712 L2994.5 1715.7 L3002.7 1715.7 L3010.8 1715.7 L3019.3 1712 L3027.5 1712 L3035.7 1715.7 L3043.8 1718.7 L3052 1715.7 L3060.5 1708.7 L3068.6 1705.7 L3076.8 1705.7 L3085 1708.7 L3093.1 1712 L3101.6 1715.7 L3109.8 1722.1 L3117.9 1725.8 L3126.2 1729.1 L3134.3 1735.8 L3142.8 1739.1 L3150.9 1745.8 L3159.1 1752.2 L3167.3 1755.9 L3175.5 1762.5 L3183.6 1768.9 L3192.1 1775.6 L3200.3 1782.3 L3208.4 1788.6 L3216.7 1795.3 L3224.8 1802 L3233.3 1808.7 L3241.4 1815.4" stroke="#0d668c" stroke-width="10.42" stroke-linecap="square"/>
</g>
<rect x="244.5" y="107.5" width="2997" height="2676" fill="none" stroke="#000" stroke-width="3.33"/>
<path d="M244.5 2783.5V2798.5M500.5 2783.5V2798.5M730.5 2783.5V2798.5M985.5 2783.5V2798.5M1232.5 2783.5V2798.5M1487.5 2783.5V2798.5M1734.5 2783.5V2798.5M1989.5 2783.5V2798.5M2245.5 2783.5V2798.5M2492.5 2783.5V2798.5M2747.5 2783.5V2798.5M2994.5 2783.5V2798.5M244.5 2783.5H229.9M244.5 2449.5H229.9M244.5 2114.5H229.9M244.5 1780.5H229.9M244.5 1445.5H229.9M244.5 1110.5H229.9M244.5 776.5H229.9M244.5 441.5H229.9M244.5 107.5H229.9" stroke="#000" stroke-width="3.33" fill="none"/>
<text y="82.00" font-size="71.0"><tspan x="864.00" textLength="155.03" lengthAdjust="spacingAndGlyphs">Lake</tspan> <tspan x="1040.00" textLength="349.98" lengthAdjust="spacingAndGlyphs">Constance</tspan> <tspan x="1414.00" textLength="195.99" lengthAdjust="spacingAndGlyphs">Water</tspan> <tspan x="1630.00" textLength="173.97" lengthAdjust="spacingAndGlyphs">Level</tspan> <tspan x="1828.00" textLength="164.97" lengthAdjust="spacingAndGlyphs">2025</tspan> <tspan x="2017.00" textLength="24.00" lengthAdjust="spacingAndGlyphs">-</tspan> <tspan x="2062.00" textLength="303.03" lengthAdjust="spacingAndGlyphs">Konstanz</tspan> <tspan x="2386.00" textLength="236.02" lengthAdjust="spacingAndGlyphs">Station</tspan></text>
<text transform="translate(74.00 0) rotate(-90)" font-size="62.0"><tspan x="-1694.00" textLength="171.99" lengthAdjust="spacingAndGlyphs">Water</tspan> <tspan x="-1504.00" textLength="151.98" lengthAdjust="spacingAndGlyphs">Level</tspan> <tspan x="-1332.00" textLength="134.98" lengthAdjust="spacingAndGlyphs">[cm]</tspan></text>
<text y="2805.80" font-size="62.0"><tspan x="181.00" textLength="34.01" lengthAdjust="spacingAndGlyphs">0</tspan></text>
<text y="2471.31" font-size="62.0"><tspan x="105.00" textLength="108.03" lengthAdjust="spacingAndGlyphs">100</tspan></text>
<text y="2136.83" font-size="62.0"><tspan x="105.00" textLength="108.03" lengthAdjust="spacingAndGlyphs">200</tspan></text>
<text y="1802.34" font-size="62.0"><tspan x="106.00" textLength="107.03" lengthAdjust="spacingAndGlyphs">300</tspan></text>
<text y="1467.85" font-size="62.0"><tspan x="107.00" textLength="107.03" lengthAdjust="spacingAndGlyphs">400</tspan></text>
<text y="1133.36" font-size="62.0"><tspan x="105.00" textLength="108.03" lengthAdjust="spacingAndGlyphs">500</tspan></text>
<text y="798.88" font-size="62.0"><tspan x="105.00" textLength="108.03" lengthAdjust="spacingAndGlyphs">600</tspan></text>
<text y="464.39" font-size="62.0"><tspan x="106.00" textLength="108.03" lengthAdjust="spacingAndGlyphs">700</tspan></text>
<text y="129.90" font-size="62.0"><tspan x="105.00" textLength="109.03" lengthAdjust="spacingAndGlyphs">800</tspan></text>
<text y="2857.80" font-size="62.0"><tspan x="196.00" textLength="92.02" lengthAdjust="spacingAndGlyphs">Jan</tspan></text>
<text y="2857.80" font-size="62.0"><tspan x="450.00" textLength="100.01" lengthAdjust="spacingAndGlyphs">Feb</tspan></text>
<text y="2857.80" font-size="62.0"><tspan x="676.00" textLength="110.01" lengthAdjust="spacingAndGlyphs">Mar</tspan></text>
<text y="2857.80" font-size="62.0"><tspan x="936.00" textLength="101.01" lengthAdjust="spacingAndGlyphs">Apr</tspan></text>
<text y="2857.80" font-size="62.0"><tspan x="1173.00" textLength="118.01" lengthAdjust="spacingAndGlyphs">May</tspan></text>
<text y="2857.80" font-size="62.0"><tspan x="1438.00" textLength="95.02" lengthAdjust="spacingAndGlyphs">Jun</tspan></text>
<text y="2857.80" font-size="62.0"><tspan x="1696.00" textLength="72.02" lengthAdjust="spacingAndGlyphs">Jul</tspan></text>
<text y="2857.80" font-size="62.0"><tspan x="1934.00" textLength="112.02" lengthAdjust="spacingAndGlyphs">Aug</tspan></text>
<text y="2857.80" font-size="62.0"><tspan x="2192.00" textLength="107.02" lengthAdjust="spacingAndGlyphs">Sep</tspan></text>
<text y="2857.80" font-size="62.0"><tspan x="2442.00" textLength="98.98" lengthAdjust="spacingAndGlyphs">Oct</tspan></text>
<text y="2857.80" font-size="62.0"><tspan x="2691.00" textLength="111.02" lengthAdjust="spacingAndGlyphs">Nov</tspan></text>
<text y="2857.80" font-size="62.0"><tspan x="2939.00" textLength="111.02" lengthAdjust="spacingAndGlyphs">Dec</tspan></text>
<path d="M285.5 136.7H871.2Q882.9 136.7 882.9 148.4V572.1Q882.9 583.8 871.2 583.8H285.5Q273.8 583.8 273.8 572.1V148.4Q273.8 136.7 285.5 136.7Z" fill="#fff" fill-opacity=".8" stroke="#ccc" stroke-opacity=".8" stroke-width="4.17"/>
<path d="M297.2 184.0H413.9" stroke="#0d668c" stroke-width="10.42" stroke-linecap="square" fill="none"/>
<g stroke="#000" stroke-width="6.25" fill="none"><path d="M297.2 270.0H413.9" stroke-dasharray="6.25 10.31"/><path d="M297.2 356.0H413.9" stroke-dasharray="23.13 10"/><path d="M297.2 442.3H413.9" stroke-dasharray="40 10 6.25 10"/></g>
<rect x="297.2" y="508" width="116.7" height="40.8" fill="#808080" fill-opacity=".3" stroke="#808080" stroke-opacity=".3" stroke-width="4.17"/>
<text y="205.30" font-size="62.0"><tspan x="462.00" textLength="143.98" lengthAdjust="spacingAndGlyphs">2025</tspan></text>
<text y="290.50" font-size="62.0"><tspan x="461.00" textLength="119.01" lengthAdjust="spacingAndGlyphs">Max</tspan></text>
<text y="376.50" font-size="62.0"><tspan x="461.00" textLength="158.03" lengthAdjust="spacingAndGlyphs">Mean</tspan></text>
<text y="462.50" font-size="62.0"><tspan x="461.00" textLength="102.02" lengthAdjust="spacingAndGlyphs">Min</tspan></text>
<text y="548.50" font-size="62.0"><tspan x="460.00" textLength="209.98" lengthAdjust="spacingAndGlyphs">Normal</tspan> <tspan x="691.00" textLength="168.98" lengthAdjust="spacingAndGlyphs">range</tspan></text>
<text class="g" y="3044.00" font-size="62.0"><tspan x="246.00" textLength="145.98" lengthAdjust="spacingAndGlyphs">2025</tspan> <tspan x="414.00" textLength="45.00" lengthAdjust="spacingAndGlyphs">=</tspan> <tspan x="480.00" textLength="136.98" lengthAdjust="spacingAndGlyphs">daily</tspan> <tspan x="639.00" textLength="163.03" lengthAdjust="spacingAndGlyphs">mean</tspan> <tspan x="823.00" textLength="135.98" lengthAdjust="spacingAndGlyphs">level</tspan> <tspan x="980.00" textLength="145.98" lengthAdjust="spacingAndGlyphs">2025</tspan></text>
<text class="g" y="3110.00" font-size="62.0"><tspan x="246.00" textLength="119.01" lengthAdjust="spacingAndGlyphs">Max</tspan> <tspan x="386.00" textLength="45.00" lengthAdjust="spacingAndGlyphs">=</tspan> <tspan x="452.00" textLength="285.97" lengthAdjust="spacingAndGlyphs">Maximum</tspan> <tspan x="759.00" textLength="157.98" lengthAdjust="spacingAndGlyphs">value</tspan> <tspan x="936.00" textLength="134.00" lengthAdjust="spacingAndGlyphs">from</tspan> <tspan x="1090.00" textLength="181.98" lengthAdjust="spacingAndGlyphs">hourly</tspan> <tspan x="1294.00" textLength="163.03" lengthAdjust="spacingAndGlyphs">mean</tspan> <tspan x="1479.00" textLength="186.98" lengthAdjust="spacingAndGlyphs">values</tspan> <tspan x="1686.00" textLength="250.99" lengthAdjust="spacingAndGlyphs">between</tspan> <tspan x="1958.00" textLength="145.98" lengthAdjust="spacingAndGlyphs">1888</tspan> <tspan x="2124.00" textLength="108.03" lengthAdjust="spacingAndGlyphs">and</tspan> <tspan x="2253.00" textLength="144.98" lengthAdjust="spacingAndGlyphs">2025</tspan></text>
<text class="g" y="3176.00" font-size="62.0"><tspan x="246.00" textLength="157.03" lengthAdjust="spacingAndGlyphs">Mean</tspan> <tspan x="426.00" textLength="42.00" lengthAdjust="spacingAndGlyphs">=</tspan> <tspan x="491.00" textLength="238.97" lengthAdjust="spacingAndGlyphs">Average</tspan> <tspan x="750.00" textLength="157.98" lengthAdjust="spacingAndGlyphs">value</tspan> <tspan x="927.00" textLength="134.00" lengthAdjust="spacingAndGlyphs">from</tspan> <tspan x="1081.00" textLength="136.98" lengthAdjust="spacingAndGlyphs">daily</tspan> <tspan x="1240.00" textLength="163.03" lengthAdjust="spacingAndGlyphs">mean</tspan> <tspan x="1425.00" textLength="186.98" lengthAdjust="spacingAndGlyphs">values</tspan> <tspan x="1632.00" textLength="250.99" lengthAdjust="spacingAndGlyphs">between</tspan> <tspan x="1904.00" textLength="145.98" lengthAdjust="spacingAndGlyphs">1888</tspan> <tspan x="2070.00" textLength="108.03" lengthAdjust="spacingAndGlyphs">and</tspan> <tspan x="2199.00" textLength="144.98" lengthAdjust="spacingAndGlyphs">2025</tspan></text>
<text class="g" y="3242.00" font-size="62.0"><tspan x="246.00" textLength="102.02" lengthAdjust="spacingAndGlyphs">Min</tspan> <tspan x="369.00" textLength="45.00" lengthAdjust="spacingAndGlyphs">=</tspan> <tspan x="435.00" textLength="268.98" lengthAdjust="spacingAndGlyphs">Minimum</tspan> <tspan x="725.00" textLength="157.98" lengthAdjust="spacingAndGlyphs">value</tspan> <tspan x="902.00" textLength="134.00" lengthAdjust="spacingAndGlyphs">from</tspan> <tspan x="1056.00" textLength="137.98" lengthAdjust="spacingAndGlyphs">daily</tspan> <tspan x="1215.00" textLength="164.03" lengthAdjust="spacingAndGlyphs">mean</tspan> <tspan x="1400.00" textLength="186.98" lengthAdjust="spacingAndGlyphs">values</tspan> <tspan x="1608.00" textLength="249.99" lengthAdjust="spacingAndGlyphs">between</tspan> <tspan x="1879.00" textLength="145.98" lengthAdjust="spacingAndGlyphs">1888</tspan> <tspan x="2045.00" textLength="108.03" lengthAdjust="spacingAndGlyphs">and</tspan> <tspan x="2174.00" textLength="145.98" lengthAdjust="spacingAndGlyphs">2025</tspan></text>
<text class="g" y="3308.00" font-size="62.0"><tspan x="246.00" textLength="208.98" lengthAdjust="spacingAndGlyphs">Normal</tspan> <tspan x="476.00" textLength="167.98" lengthAdjust="spacingAndGlyphs">range</tspan> <tspan x="665.00" textLength="45.00" lengthAdjust="spacingAndGlyphs">=</tspan> <tspan x="731.00" textLength="157.03" lengthAdjust="spacingAndGlyphs">Mean</tspan> <tspan x="912.00" textLength="40.99" lengthAdjust="spacingAndGlyphs">±</tspan> <tspan x="976.00" textLength="256.98" lengthAdjust="spacingAndGlyphs">standard</tspan> <tspan x="1253.00" textLength="270.00" lengthAdjust="spacingAndGlyphs">deviation</tspan> <tspan x="1543.00" textLength="173.98" lengthAdjust="spacingAndGlyphs">based</tspan> <tspan x="1737.00" textLength="72.02" lengthAdjust="spacingAndGlyphs">on</tspan> <tspan x="1828.00" textLength="137.98" lengthAdjust="spacingAndGlyphs">daily</tspan> <tspan x="1988.00" textLength="163.03" lengthAdjust="spacingAndGlyphs">mean</tspan> <tspan x="2172.00" textLength="187.98" lengthAdjust="spacingAndGlyphs">values</tspan></text>
<text class="g" y="3440.00" font-size="62.0"><tspan x="246.00" textLength="132.96" lengthAdjust="spacingAndGlyphs">Data</tspan> <tspan x="403.00" textLength="135.00" lengthAdjust="spacingAndGlyphs">from</tspan> <tspan x="558.00" textLength="95.01" lengthAdjust="spacingAndGlyphs">the</tspan> <tspan x="672.00" textLength="154.00" lengthAdjust="spacingAndGlyphs">State</tspan> <tspan x="844.00" textLength="243.00" lengthAdjust="spacingAndGlyphs">Institute</tspan> <tspan x="1106.00" textLength="81.00" lengthAdjust="spacingAndGlyphs">for</tspan> <tspan x="1205.00" textLength="95.01" lengthAdjust="spacingAndGlyphs">the</tspan> <tspan x="1320.00" textLength="369.99" lengthAdjust="spacingAndGlyphs">Environment</tspan> <tspan x="1711.00" textLength="609.99" lengthAdjust="spacingAndGlyphs">Baden-Württemberg.</tspan></text>
<text class="g" y="3506.00" font-size="62.0"><tspan x="246.00" textLength="70.02" lengthAdjust="spacingAndGlyphs">All</tspan> <tspan x="337.00" textLength="334.99" lengthAdjust="spacingAndGlyphs">information</tspan> <tspan x="694.14" textLength="215.90" lengthAdjust="spacingAndGlyphs">without</tspan> <tspan x="930.00" textLength="318.98" lengthAdjust="spacingAndGlyphs">guarantee.</tspan> <tspan x="1268.00" textLength="38.98" lengthAdjust="spacingAndGlyphs">//</tspan> <tspan x="1327.00" textLength="534.03" lengthAdjust="spacingAndGlyphs">pegel-konstanz.de</tspan></text>
</svg></body></html>
